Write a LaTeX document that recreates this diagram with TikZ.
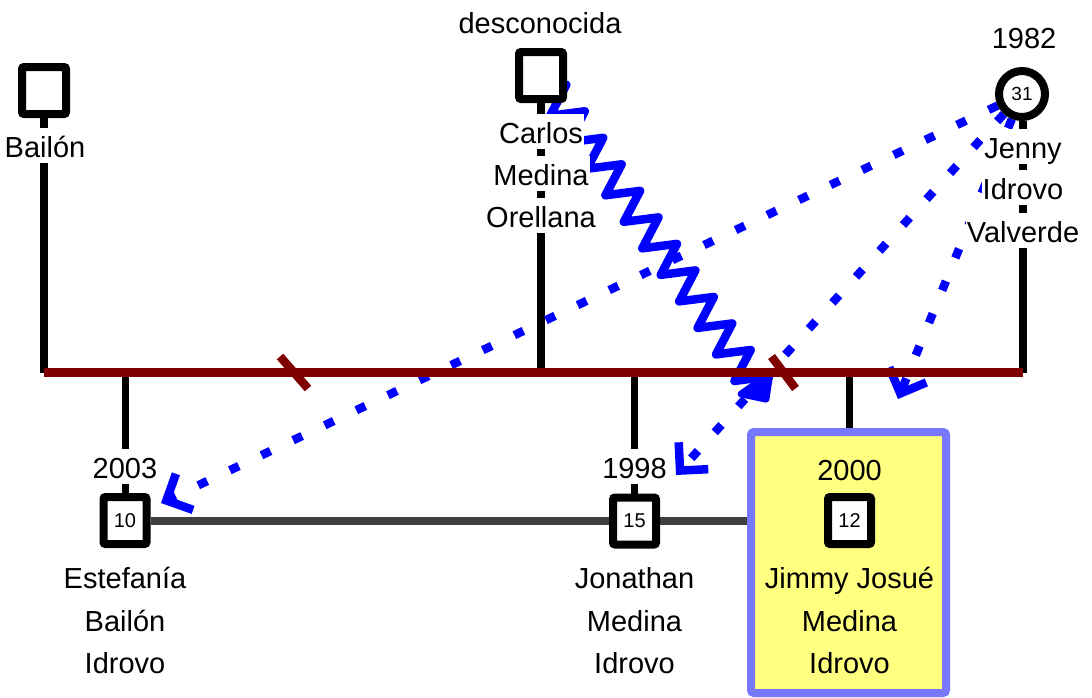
\documentclass[tikz,border=0pt]{standalone}
\usepackage{fontspec}
\setmainfont{Liberation Sans}
\usetikzlibrary{arrows.meta,decorations.pathmorphing}
\pgfdeclarelayer{lines}
\pgfdeclarelayer{blue}
\pgfdeclarelayer{bar}
\pgfsetlayers{lines,blue,bar,main}
\definecolor{barred}{RGB}{128,0,0}
\definecolor{rel}{RGB}{0,0,255}
\definecolor{sib}{RGB}{64,64,64}
\definecolor{hlfill}{RGB}{255,255,128}
\definecolor{hlborder}{RGB}{120,120,255}
\begin{document}
\begin{tikzpicture}[x=1pt,y=-1pt,
  male/.style={draw=black, line width=8pt, fill=white, rounded corners=2pt,
    minimum width=44pt, minimum height=47pt, inner sep=0pt,
    font=\fontsize{20}{20}\selectfont},
  child/.style={male, minimum width=43pt, minimum height=47pt},
  female/.style={circle, draw=black, line width=8pt, fill=white,
    minimum size=46pt, inner sep=0pt, font=\fontsize{19}{19}\selectfont},
  lbl/.style={fill=white, inner xsep=1pt, inner ysep=0pt, text height=29pt,
    text depth=6pt, anchor=base, font=\fontsize{29}{29}\selectfont},
  hllbl/.style={lbl, fill=none},
  pline/.style={draw=black, line width=8pt},
  cline/.style={draw=black, line width=7pt},
  sibline/.style={draw=sib, line width=8pt},
  barline/.style={draw=barred, line width=8.5pt},
  tickline/.style={draw=barred, line width=8.5pt},
  relline/.style={draw=rel, line width=8.5pt, dash pattern=on 10pt off 25pt,
    -{Straight Barb[length=20pt,width=40pt,sharp]}},
  zigline/.style={draw=rel, line width=8.5pt, line join=round, decorate,
    decoration={zigzag, amplitude=15.5pt, segment length=32.3pt,
      pre length=14pt, post length=8pt},
    -{Triangle[length=27pt,width=49pt,round]}},
  hlbox/.style={draw=hlborder, fill=hlfill, line width=8pt, rounded corners=3pt,
    minimum width=195pt, minimum height=261pt, inner sep=0pt}
]
\useasboundingbox (0,0) rectangle (1092,697);

% individuals
\node[male] (bailon) at (44,90.5) {};
\node[male] (carlos) at (541,75.5) {};
\node[female] (jenny) at (1022,94) {31};
\node[child] (estef) at (125,520.5) {10};
\node[child] (jonathan) at (634.5,521) {15};
\node[child] (jimmy) at (849.5,520.5) {12};

% labels
\node[lbl] (bailonN) at (45,157) {Bailón};
\node[lbl] (carlosY) at (540,33) {desconocida};
\node[lbl] (carlosA) at (541,143) {Carlos};
\node[lbl] (carlosB) at (541,185) {Medina};
\node[lbl] (carlosC) at (541,227) {Orellana};
\node[lbl] (jennyY) at (1024,48) {1982};
\node[lbl] (jennyA) at (1023,158) {Jenny};
\node[lbl] (jennyB) at (1023,199) {Idrovo};
\node[lbl] (jennyC) at (1023,242) {Valverde};
\node[lbl] (estefY) at (125,478) {2003};
\node[lbl] (estefA) at (125,588) {Estefanía};
\node[lbl] (estefB) at (125,631) {Bailón};
\node[lbl] (estefC) at (125,673) {Idrovo};
\node[lbl] (jonY) at (634.5,478) {1998};
\node[lbl] (jonA) at (634.5,588) {Jonathan};
\node[lbl] (jonB) at (634.5,631) {Medina};
\node[lbl] (jonC) at (634.5,673) {Idrovo};
\node[hllbl] (jimY) at (849.5,480) {2000};
\node[hllbl] (jimA) at (849.5,588) {Jimmy Josué};
\node[hllbl] (jimB) at (849.5,631) {Medina};
\node[hllbl] (jimC) at (849.5,673) {Idrovo};

\coordinate (barL) at (44,372.5);
\coordinate (barR) at (1023,372.5);
\coordinate (tickA) at (294,372.5);
\coordinate (tickB) at (783.5,372.5);
\coordinate (tipE) at (161,503);
\coordinate (tipJo) at (676,475);
\coordinate (tipJi) at (898,399);
\coordinate (zigtip) at (768,402);

\begin{pgfonlayer}{lines}
  \draw[pline] (bailon) -- (bailon |- barL);
  \draw[pline] (carlos) -- (carlos |- barL);
  \draw[pline] (barR |- jenny.south) -- (barR);
  \draw[cline] (estef |- barL) -- (estef);
  \draw[cline] (jonathan |- barL) -- (jonathan);
  \draw[cline] (jimmy |- barL) -- (jimmy);
  \draw[sibline] (estef) -- (jimmy);
\end{pgfonlayer}

\begin{pgfonlayer}{blue}
  \draw[zigline] (carlos.center) -- (zigtip);
  \draw[relline] (jenny) -- (tipE);
  \draw[relline] (jenny) -- (tipJo);
  \draw[relline] (jenny) -- (tipJi);
\end{pgfonlayer}

\begin{pgfonlayer}{bar}
  \draw[barline] (barL) -- (barR);
  \draw[tickline] (tickA) ++(-14,-16) -- ++(28,32);
  \draw[tickline] (tickB) ++(-12,-16) -- ++(24,32);
  \node[hlbox] (hl) at (848.5,562.5) {};
\end{pgfonlayer}
\end{tikzpicture}
\end{document}
